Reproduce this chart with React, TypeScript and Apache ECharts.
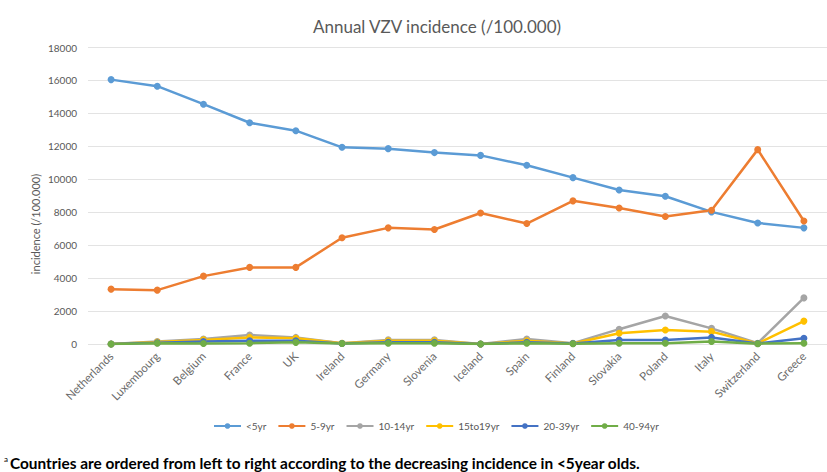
import React, { useEffect, useRef } from "react";
import * as echarts from "echarts";

const countries = ["Netherlands", "Luxembourg", "Belgium", "France", "UK", "Ireland", "Germany", "Slovenia", "Iceland", "Spain", "Finland", "Slovakia", "Poland", "Italy", "Switzerland", "Greece"];
const under5 = [16050, 15650, 14560, 13430, 12950, 11940, 11860, 11620, 11450, 10850, 10100, 9350, 8970, 8020, 7350, 7050];
const age5to9 = [3330, 3270, 4120, 4650, 4650, 6450, 7050, 6950, 7950, 7310, 8690, 8260, 7740, 8120, 11800, 7470];
const age10to14 = [0, 150, 300, 550, 400, 50, 250, 250, 0, 300, 50, 900, 1700, 950, 50, 2800];
const age15to19 = [0, 120, 250, 400, 350, 50, 200, 200, 0, 200, 30, 650, 850, 750, 30, 1390];
const age20to39 = [0, 80, 150, 200, 200, 30, 100, 100, 0, 100, 30, 240, 240, 400, 30, 350];
const age40to94 = [0, 50, 30, 50, 100, 30, 50, 50, 0, 50, 20, 50, 50, 150, 20, 50];
const seriesNames = ["<5yr", "5-9yr", "10-14yr", "15to19yr", "20-39yr", "40-94yr"];
const seriesColors = ["#5B9BD5", "#ED7D31", "#A5A5A5", "#FFC000", "#4472C4", "#70AD47"];
const yTicks = { min: 0, max: 18000, interval: 2000 };

export default function App() {
  const ref = useRef<HTMLDivElement>(null);
  useEffect(() => {
    if (!ref.current) return;
    const chart = echarts.init(ref.current, null, { renderer: "svg" });
    const data = [under5, age5to9, age10to14, age15to19, age20to39, age40to94];
    const font = "Lato, 'Open Sans', sans-serif";
    chart.setOption({
      animation: false,
      backgroundColor: "#ffffff",
      color: seriesColors,
      textStyle: { fontFamily: font },
      title: {
        text: "Annual VZV incidence (/100.000)",
        left: 432,
        textAlign: "center",
        top: 13,
        textStyle: { fontSize: 17, fontWeight: "normal", color: "#595959", fontFamily: font },
      },
      legend: {
        top: 416,
        left: 208,
        itemWidth: 27,
        itemHeight: 7,
        itemGap: 11,
        textStyle: { fontSize: 10, color: "#595959", fontFamily: font },
        data: seriesNames,
      },
      grid: { left: 88, top: 47.5, width: 752, bottom: 128, containLabel: false },
      xAxis: {
        type: "category",
        data: countries,
        boundaryGap: true,
        axisLine: { show: false },
        axisTick: { show: false },
        axisLabel: { rotate: 45, fontSize: 11.5, color: "#6b6b6b", margin: 10, interval: 0, fontFamily: font },
      },
      yAxis: {
        type: "value",
        min: yTicks.min,
        max: yTicks.max,
        interval: yTicks.interval,
        axisLine: { show: false },
        axisTick: { show: false },
        axisLabel: { fontSize: 10, color: "#595959", margin: 11, fontFamily: font, formatter: (v: number) => String(v) },
        splitLine: { lineStyle: { color: "#e3e3e3", width: 1 } },
      },
      series: seriesNames.map((name, i) => ({
        name,
        type: "line",
        data: data[i],
        symbol: "circle",
        symbolSize: 7,
        lineStyle: { width: 2.5, color: seriesColors[i] },
        itemStyle: { color: seriesColors[i] },
      })),
      graphic: [
        {
          type: "text",
          x: 35,
          y: 224,
          rotation: Math.PI / 2,
          style: {
            text: "incidence (/100.000)",
            fontSize: 11,
            fontFamily: font,
            fill: "#595959",
            align: "center",
            verticalAlign: "middle",
          },
        },
        {
          type: "text",
          left: 4,
          top: 455,
          style: {
            text: "{sup|a}{t|Countries are ordered from left to right according to the decreasing incidence in <5year olds.}",
            rich: {
              sup: { fontSize: 8, fontFamily: font, fill: "#000", verticalAlign: "top", padding: [0, 2, 8, 0] },
              t: { fontSize: 15.4, fontWeight: "bold", fontFamily: font, fill: "#000" },
            },
          },
        },
      ],
    });
    return () => chart.dispose();
  }, []);
  return <div ref={ref} style={{ position: "fixed", left: 0, top: 0, width: 827, height: 472 }} />;
}
